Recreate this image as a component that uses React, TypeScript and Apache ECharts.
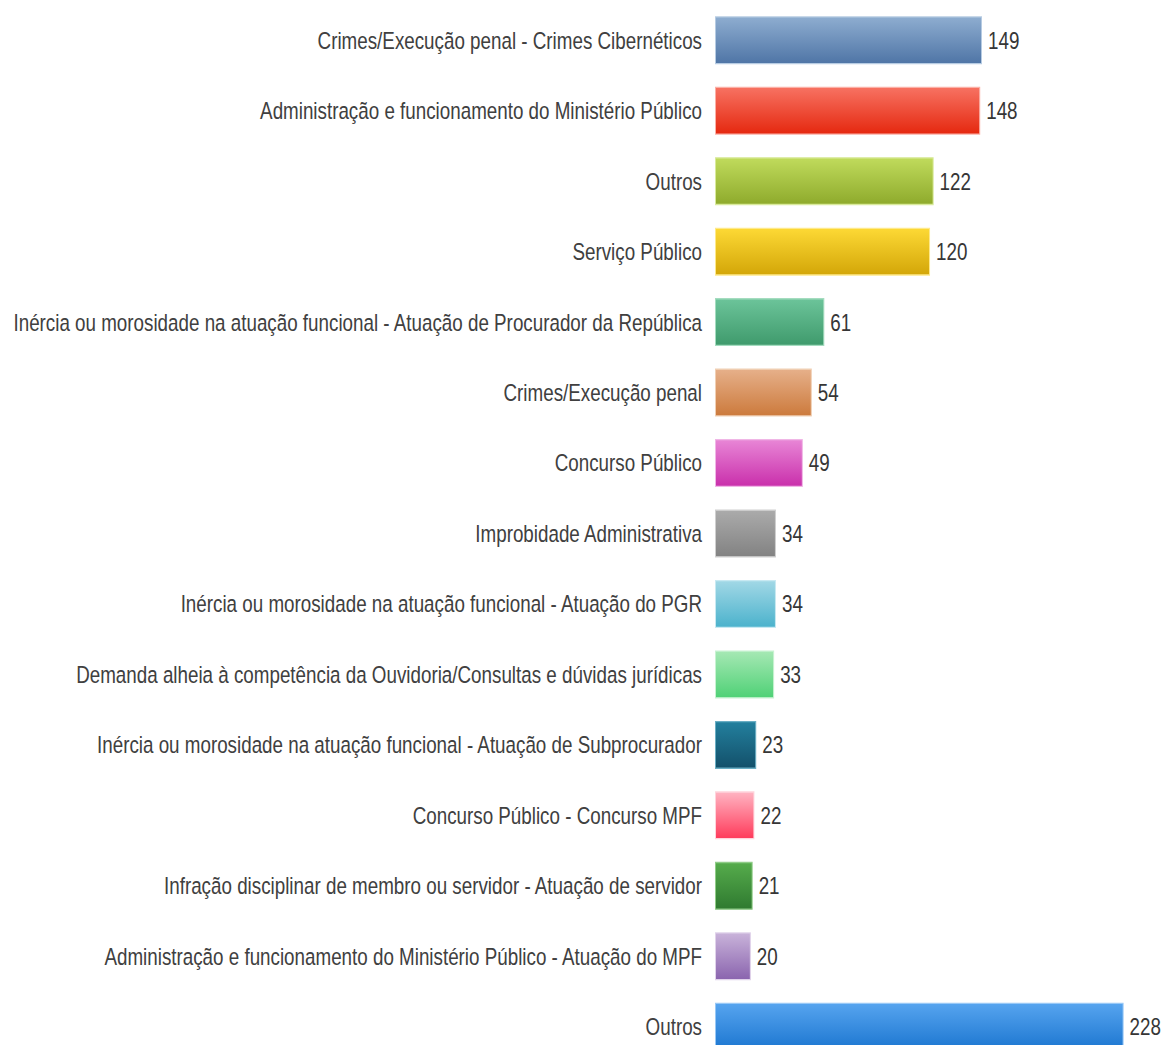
import React, { useEffect, useRef } from "react";
import * as echarts from "echarts";

const categories = [
  "Crimes/Execução penal - Crimes Cibernéticos",
  "Administração e funcionamento do Ministério Público",
  "Outros",
  "Serviço Público",
  "Inércia ou morosidade na atuação funcional - Atuação de Procurador da República",
  "Crimes/Execução penal",
  "Concurso Público",
  "Improbidade Administrativa",
  "Inércia ou morosidade na atuação funcional - Atuação do PGR",
  "Demanda alheia à competência da Ouvidoria/Consultas e dúvidas jurídicas",
  "Inércia ou morosidade na atuação funcional - Atuação de Subprocurador",
  "Concurso Público - Concurso MPF",
  "Infração disciplinar de membro ou servidor - Atuação de servidor",
  "Administração e funcionamento do Ministério Público - Atuação do MPF",
  "Outros",
];

const values = [149, 148, 122, 120, 61, 54, 49, 34, 34, 33, 23, 22, 21, 20, 228];

const topColors = [
  "#8eadd0", "#f77262", "#c0db5c", "#fdd935", "#6cc49a", "#e6b08a", "#e886d6", "#ababab",
  "#a2d8e6", "#a6e8b4", "#23809e", "#ffb4c2", "#56ac4c", "#c9b3da", "#56a4ef",
];
const bottomColors = [
  "#4f75a6", "#e5280f", "#8eaa2c", "#d3a608", "#3f9a6c", "#cc7a3c", "#c92fab", "#828282",
  "#4bb2cc", "#4fd176", "#13506a", "#ff3a5a", "#2f7a30", "#8a64ae", "#1c76d0",
];
const borderColors = [
  "#b6cbe2", "#fbb0a6", "#d9ea9c", "#fee98a", "#a4dcbf", "#f0cfb4", "#f0b6e6", "#cfcfcf",
  "#c8e9f2", "#c8f2d2", "#6aaec4", "#ffd4dc", "#90cc88", "#e0d2ea", "#98c8f6",
];

const STRETCH = 1.3;

export default function App() {
  const ref = useRef<HTMLDivElement>(null);
  useEffect(() => {
    if (!ref.current) return;
    const chart = echarts.init(ref.current, null, { renderer: "svg" });
    const data = values.map((v, i) => ({
      value: v,
      itemStyle: {
        color: new echarts.graphic.LinearGradient(0, 0, 0, 1, [
          { offset: 0, color: topColors[i] },
          { offset: 1, color: bottomColors[i] },
        ]),
        borderColor: borderColors[i],
        borderWidth: 1,
      },
    }));
    chart.setOption({
      animation: false,
      backgroundColor: "#ffffff",
      grid: {
        left: 715,
        top: 5 / STRETCH,
        width: 448,
        height: 1057 / STRETCH,
        containLabel: false,
      },
      xAxis: {
        type: "value",
        min: 0,
        max: 250,
        show: false,
      },
      yAxis: {
        type: "category",
        data: categories,
        inverse: true,
        axisLine: { show: false },
        axisTick: { show: false },
        splitLine: { show: false },
        axisLabel: {
          margin: 13,
          color: "#404040",
          fontSize: 18.8,
          fontFamily: "Liberation Sans, Arial, sans-serif",
        },
      },
      series: [
        {
          type: "bar",
          data,
          barWidth: 48 / STRETCH,
          label: {
            show: true,
            position: "right",
            distance: 6,
            color: "#363636",
            fontSize: 18.8,
            fontFamily: "Liberation Sans, Arial, sans-serif",
          },
        },
      ],
    });
    return () => chart.dispose();
  }, []);
  return (
    <div
      style={{
        position: "absolute",
        left: 0,
        top: 0,
        width: 1166,
        height: 1045,
        overflow: "hidden",
        background: "#fff",
      }}
    >
      <div
        ref={ref}
        style={{
          width: 1166,
          height: 1070 / STRETCH,
          transform: `scaleY(${STRETCH})`,
          transformOrigin: "0 0",
        }}
      />
    </div>
  );
}
